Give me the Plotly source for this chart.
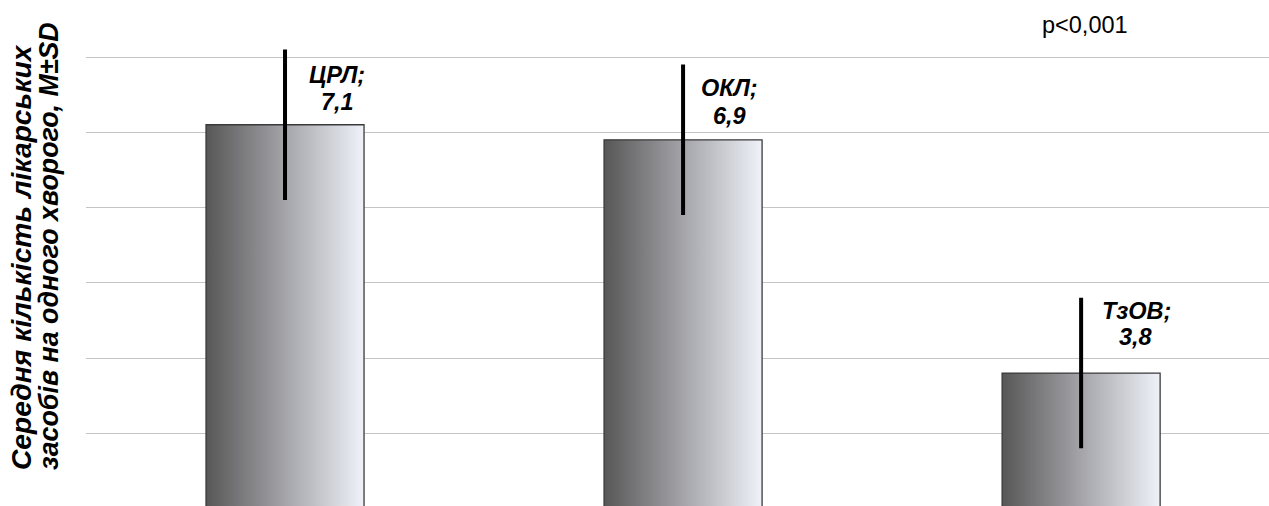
import plotly.graph_objects as go

# ---- data ----
categories = ["ЦРЛ", "ОКЛ", "ТзОВ"]
means = [7.1, 6.9, 3.8]
sds = [1.0, 1.0, 1.0]
mean_labels = ["7,1", "6,9", "3,8"]
y_title_lines = ["Середня кількість лікарських", "засобів на одного хворого, M±SD"]
p_text = "p<0,001"

# ---- style ----
FONT = "Arial"
FS = 23.5
TITLE_FS = [28.2, 26.8]
TITLE_X_PX = [21, 49]
BAR_WIDTH = 0.397
LABEL_XSHIFT = [52, 46, 55]
LABEL_LINE1_UP = [49.5, 51.5, 62.5]   # px above bar top (1st label line)
LABEL_LINE2_UP = [22.5, 24, 36]       # px above bar top (2nd label line)
GRAD = [[0, "#575757"], [0.5, "#a4a4a9"], [1, "#eff2f9"]]

fig = go.Figure()

for i, (cat, v) in enumerate(zip(categories, means)):
    x0, x1 = i - BAR_WIDTH / 2, i + BAR_WIDTH / 2
    fig.add_trace(go.Scatter(
        x=[x0, x1, x1, x0, x0],
        y=[0, 0, v, v, 0],
        mode="lines",
        fill="toself",
        fillgradient=dict(type="horizontal", colorscale=GRAD),
        line=dict(color="#3a3a3a", width=1.3),
        hoverinfo="skip",
        showlegend=False,
        name=cat,
    ))

fig.add_trace(go.Scatter(
    x=list(range(len(categories))),
    y=means,
    mode="markers",
    marker=dict(size=1, opacity=0),
    error_y=dict(type="data", array=sds, visible=True, thickness=4, width=0, color="black"),
    showlegend=False,
    hoverinfo="skip",
))

lab_font = dict(family=FONT, size=FS, color="black", weight="bold", style="italic")
for i, (cat, lab, v) in enumerate(zip(categories, mean_labels, means)):
    for txt, up in ((f"{cat};", LABEL_LINE1_UP[i]), (lab, LABEL_LINE2_UP[i])):
        fig.add_annotation(
            x=i, y=v, xref="x", yref="y",
            text=txt, showarrow=False,
            xanchor="center", yanchor="middle",
            xshift=LABEL_XSHIFT[i], yshift=up,
            font=lab_font,
        )

fig.add_annotation(
    x=(1085 - 86) / 1183, y=1 - 25 / 506, xref="paper", yref="paper",
    text=p_text, showarrow=False, xanchor="center", yanchor="middle",
    font=dict(family=FONT, size=FS, color="black"),
)

for txt, px, fs in zip(y_title_lines, TITLE_X_PX, TITLE_FS):
    fig.add_annotation(
        x=(px - 86) / 1183, y=1 - 472 / 506, xref="paper", yref="paper",
        text=txt, showarrow=False,
        textangle=-90, xanchor="center", yanchor="bottom",
        font=dict(family=FONT, size=fs, color="black", weight="bold", style="italic"),
    )

fig.update_layout(
    width=1269, height=506,
    margin=dict(l=86, r=0, t=0, b=0),
    paper_bgcolor="white", plot_bgcolor="white",
    xaxis=dict(range=[-0.5, 2.472], showticklabels=False, showgrid=False,
               zeroline=False, showline=False, ticks=""),
    yaxis=dict(range=[2.033, 8.758], dtick=1, showticklabels=False, showgrid=True,
               gridcolor="#c4c4c4", gridwidth=1, zeroline=False, showline=False, ticks=""),
)

fig.write_html("out.html")
